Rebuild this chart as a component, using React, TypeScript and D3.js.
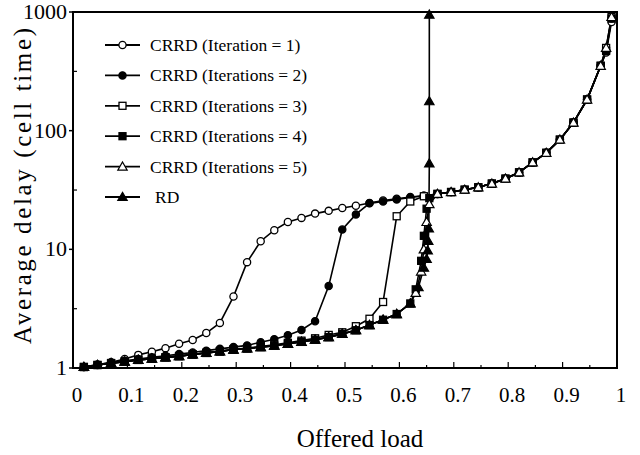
import React, { useRef, useEffect } from "react";
import * as d3 from "d3";

// offered load sample points
const loads = [0.02, 0.045, 0.07, 0.095, 0.12, 0.145, 0.17, 0.195, 0.22, 0.245, 0.27, 0.295, 0.32, 0.345, 0.37, 0.395, 0.42, 0.445, 0.47, 0.495, 0.52, 0.545, 0.57, 0.595, 0.62, 0.645];
const tailLoads = [0.67, 0.695, 0.72, 0.745, 0.77, 0.795, 0.82, 0.845, 0.87, 0.895, 0.92, 0.945, 0.97, 0.98, 0.99];

const iter1 = [1.02, 1.06, 1.12, 1.19, 1.29, 1.37, 1.47, 1.6, 1.72, 1.97, 2.4, 4.0, 7.8, 11.7, 14.5, 17, 18.4, 20, 21.1, 22.3, 23.3, 24.6, 25.8, 26.7, 27.6, 28.3];
const iter1Tail = [29.3, 30.4, 31.8, 33.3, 35.8, 39.4, 44.5, 54, 65, 84, 117, 183, 352, 455, 824];

const iter2 = [1.02, 1.07, 1.11, 1.15, 1.19, 1.23, 1.27, 1.31, 1.35, 1.4, 1.45, 1.5, 1.55, 1.65, 1.75, 1.89, 2.09, 2.48, 4.9, 14.7, 19.7, 24.4, 25.3, 26.3, 27.3, 28.3];
const iter2Tail = [29.3, 30.4, 31.8, 33.3, 35.8, 39.4, 44.5, 54, 65, 84, 117, 183, 352, 470, 880];

const iter3 = [1.02, 1.06, 1.1, 1.13, 1.17, 1.2, 1.23, 1.26, 1.3, 1.34, 1.38, 1.43, 1.47, 1.52, 1.57, 1.63, 1.7, 1.78, 1.9, 2.0, 2.25, 2.6, 3.6, 19, 25.3, 28];
const iter3Tail = [29.3, 30.4, 31.8, 33.3, 35.8, 39.4, 44.5, 54, 65, 84, 117, 183, 352, 498, 908];

const lowLoads = [0.02, 0.045, 0.07, 0.095, 0.12, 0.145, 0.17, 0.195, 0.22, 0.245, 0.27, 0.295, 0.32, 0.345, 0.37, 0.395, 0.42, 0.445, 0.47, 0.495, 0.52, 0.545, 0.57, 0.595, 0.62];
const lowDelay = [1.02, 1.06, 1.1, 1.13, 1.17, 1.2, 1.23, 1.26, 1.3, 1.34, 1.38, 1.43, 1.46, 1.5, 1.54, 1.6, 1.66, 1.73, 1.82, 1.94, 2.08, 2.3, 2.55, 2.85, 3.5];

const iter4Knee = [0.63, 0.64, 0.645, 0.65, 0.655];
const iter4KneeDelay = [4.6, 8, 13, 22, 27];
const iter5Knee = [0.63, 0.64, 0.645, 0.65, 0.655];
const iter5KneeDelay = [4.3, 6.5, 10, 17, 24];

const rdKnee = [0.635, 0.645, 0.65, 0.652, 0.653, 0.654, 0.655, 0.655, 0.655];
const rdKneeDelay = [4.8, 7, 8.3, 9.8, 11.8, 15, 53, 177, 950];

const zip = (xs: number[], ys: number[]) => xs.map((x, i) => ({ x, y: ys[i] }));

const series = [
  { name: "CRRD (Iteration = 1)", marker: "circle", filled: false, data: [...zip(loads, iter1), ...zip(tailLoads, iter1Tail)] },
  { name: "CRRD (Iterations = 2)", marker: "circle", filled: true, data: [...zip(loads, iter2), ...zip(tailLoads, iter2Tail)] },
  { name: "CRRD (Iterations = 3)", marker: "square", filled: false, data: [...zip(loads, iter3), ...zip(tailLoads, iter3Tail)] },
  { name: "CRRD (Iterations = 4)", marker: "square", filled: true, data: [...zip(lowLoads, lowDelay), ...zip(iter4Knee, iter4KneeDelay), ...zip(tailLoads, iter2Tail)] },
  { name: "CRRD (Iterations = 5)", marker: "triangle", filled: false, data: [...zip(lowLoads, lowDelay), ...zip(iter5Knee, iter5KneeDelay), ...zip(tailLoads, iter3Tail)] },
  { name: "RD", marker: "triangle", filled: true, data: [...zip(lowLoads, lowDelay), ...zip(rdKnee, rdKneeDelay)] },
];

const xTicks = [0, 0.1, 0.2, 0.3, 0.4, 0.5, 0.6, 0.7, 0.8, 0.9, 1];
const xMinor = [0.05, 0.15, 0.25, 0.35, 0.45, 0.55, 0.65, 0.75, 0.85, 0.95];
const yTicks = [1, 10, 100, 1000];
const yMinor = [3.16, 31.6, 316];

const FONT = "Liberation Serif, DejaVu Serif, serif";

export default function App() {
  const ref = useRef<SVGSVGElement>(null);

  useEffect(() => {
    const svg = d3.select(ref.current);
    svg.selectAll("*").remove();

    const x = d3.scaleLinear().domain([0, 1]).range([73, 617]);
    const y = d3.scaleLog().domain([1, 1000]).range([368, 12]);

    // frame
    svg.append("rect")
      .attr("x", x(0)).attr("y", y(1000))
      .attr("width", x(1) - x(0)).attr("height", y(1) - y(1000))
      .attr("fill", "none").attr("stroke", "#000").attr("stroke-width", 2);

    // x ticks (inside)
    svg.selectAll("line.xt").data(xTicks.slice(1, -1)).enter().append("line")
      .attr("x1", d => x(d)).attr("x2", d => x(d))
      .attr("y1", y(1)).attr("y2", y(1) - 6)
      .attr("stroke", "#000").attr("stroke-width", 1.2);
    svg.selectAll("line.xm").data(xMinor).enter().append("line")
      .attr("x1", d => x(d)).attr("x2", d => x(d))
      .attr("y1", y(1)).attr("y2", y(1) - 3)
      .attr("stroke", "#000").attr("stroke-width", 1.2);

    // y ticks
    svg.selectAll("line.yt").data(yTicks).enter().append("line")
      .attr("x1", x(0) - 4).attr("x2", x(0))
      .attr("y1", d => y(d)).attr("y2", d => y(d))
      .attr("stroke", "#000").attr("stroke-width", 1.5);
    svg.selectAll("line.ym").data(yMinor).enter().append("line")
      .attr("x1", x(0)).attr("x2", x(0) + 4)
      .attr("y1", d => y(d)).attr("y2", d => y(d))
      .attr("stroke", "#000").attr("stroke-width", 1.2);

    // tick labels
    svg.selectAll("text.xl").data(xTicks).enter().append("text")
      .attr("x", d => x(d) + 4).attr("y", 402)
      .attr("text-anchor", "middle")
      .attr("font-family", FONT).attr("font-size", 21)
      .text(d => String(d));
    svg.selectAll("text.yl").data(yTicks).enter().append("text")
      .attr("x", 67).attr("y", d => y(d) + 7)
      .attr("text-anchor", "end")
      .attr("font-family", FONT).attr("font-size", 22)
      .text(d => String(d));

    // axis titles
    svg.append("text")
      .attr("x", 360).attr("y", 447)
      .attr("text-anchor", "middle")
      .attr("font-family", FONT).attr("font-size", 25)
      .text("Offered load");
    svg.append("text")
      .attr("transform", "translate(31,186) rotate(-90)")
      .attr("text-anchor", "middle")
      .attr("textLength", 316).attr("lengthAdjust", "spacing")
      .attr("font-family", FONT).attr("font-size", 25)
      .text("Average delay (cell time)");

    const drawMarker = (g: any, kind: string, filled: boolean, cx: number, cy: number) => {
      const fill = filled ? "#000" : "#fff";
      if (kind === "circle") {
        g.append("circle").attr("cx", cx).attr("cy", cy).attr("r", 3.6)
          .attr("fill", fill).attr("stroke", "#000").attr("stroke-width", 1.3);
      } else if (kind === "square") {
        g.append("rect").attr("x", cx - 3.5).attr("y", cy - 3.5).attr("width", 7).attr("height", 7)
          .attr("fill", fill).attr("stroke", "#000").attr("stroke-width", 1.3);
      } else {
        g.append("path").attr("d", d3.symbol(d3.symbolTriangle, 38)())
          .attr("transform", `translate(${cx},${cy + 0.8})`)
          .attr("fill", fill).attr("stroke", "#000").attr("stroke-width", 1.2);
      }
    };

    const line = d3.line<{ x: number; y: number }>().x(d => x(d.x)).y(d => y(d.y));
    const plot = svg.append("g");
    series.forEach(s => {
      plot.append("path").attr("d", line(s.data))
        .attr("fill", "none").attr("stroke", "#000").attr("stroke-width", 1.6);
    });
    series.forEach(s => {
      const g = plot.append("g");
      s.data.forEach(d => drawMarker(g, s.marker, s.filled, x(d.x), y(d.y)));
    });

    // legend
    const legend = svg.append("g");
    series.forEach((s, i) => {
      const ly = 45 + i * 30.4;
      legend.append("line").attr("x1", 105).attr("x2", 140).attr("y1", ly).attr("y2", ly)
        .attr("stroke", "#000").attr("stroke-width", 1.8);
      drawMarker(legend, s.marker, s.filled, 122.5, ly);
      legend.append("text")
        .attr("x", s.name === "RD" ? 155 : 150).attr("y", ly + 6)
        .attr("font-family", FONT).attr("font-size", 17.5)
        .text(s.name);
    });
  }, []);

  return (
    <svg ref={ref} width={640} height={455}
      style={{ position: "absolute", left: 0, top: 0, background: "#fff" }} />
  );
}
